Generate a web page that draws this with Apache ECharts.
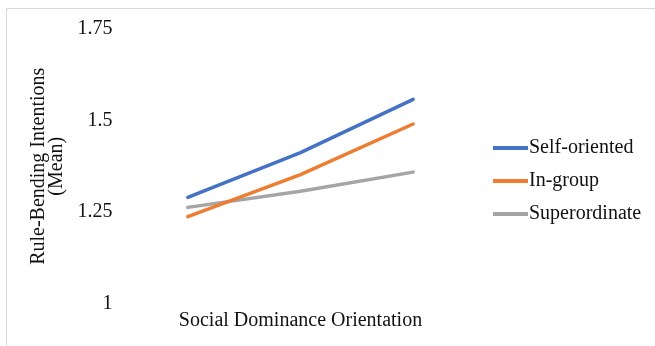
<!DOCTYPE html>
<html>
<head>
<meta charset="utf-8">
<script src="https://cdn.jsdelivr.net/npm/echarts@6/dist/echarts.min.js"></script>
<style>
  html, body { margin: 0; padding: 0; background: #fff; }
  #chart { width: 655px; height: 346px; }
</style>
</head>
<body>
<div id="chart"></div>
<script>
// Simple slopes: rule-bending intentions across levels of social dominance orientation
const sdoLevels = ['Low SDO', 'Mean SDO', 'High SDO'];
const selfOriented = [1.29, 1.412, 1.557];
const inGroup = [1.238, 1.352, 1.49];
const superordinate = [1.263, 1.307, 1.359];
const yTicks = [1, 1.25, 1.5, 1.75];

const seriesNames = ['Self-oriented', 'In-group', 'Superordinate'];
const seriesData = [selfOriented, inGroup, superordinate];
const seriesColors = ['#4472C4', '#ED7D31', '#A5A5A5'];

const serif = '"Liberation Serif", "Times New Roman", serif';
const textColor = '#111111';

const chart = echarts.init(document.getElementById('chart'), null, { renderer: 'canvas' });

chart.setOption({
  animation: false,
  backgroundColor: '#ffffff',
  graphic: [{
    type: 'rect',
    shape: { x: 6.5, y: 8.5, width: 700, height: 400 },
    style: { fill: 'none', stroke: '#d9d9d9', lineWidth: 1 },
    silent: true,
    z: -1
  }],
  grid: { left: 131.5, right: 185.5, top: 28.5, bottom: 42, containLabel: false },
  legend: {
    orient: 'vertical',
    left: 488,
    top: 133,
    itemGap: 13,
    itemWidth: 35,
    itemHeight: 4,
    icon: 'rect',
    textStyle: { fontFamily: serif, fontSize: 20, color: textColor, padding: [0, 0, 0, -4] },
    data: seriesNames
  },
  xAxis: {
    type: 'category',
    data: sdoLevels,
    boundaryGap: true,
    axisLine: { show: false },
    axisTick: { show: false },
    axisLabel: { show: false },
    splitLine: { show: false },
    name: 'Social Dominance Orientation',
    nameLocation: 'middle',
    nameGap: 7,
    nameTextStyle: { fontFamily: serif, fontSize: 20, color: textColor }
  },
  yAxis: {
    type: 'value',
    min: yTicks[0],
    max: yTicks[yTicks.length - 1],
    interval: 0.25,
    axisLine: { show: false },
    axisTick: { show: false },
    splitLine: { show: false },
    axisLabel: {
      margin: 19,
      fontFamily: serif,
      fontSize: 20,
      color: textColor
    },
    name: 'Rule-Bending Intentions\n(Mean)',
    nameLocation: 'middle',
    nameRotate: 90,
    nameGap: 61,
    nameTextStyle: { fontFamily: serif, fontSize: 20, color: textColor, lineHeight: 18 }
  },
  series: seriesNames.map(function (name, i) {
    return {
      name: name,
      type: 'line',
      data: seriesData[i],
      symbol: 'none',
      smooth: false,
      color: seriesColors[i],
      lineStyle: { width: 3.5, color: seriesColors[i], cap: 'round', join: 'round' },
      z: 3 - i
    };
  })
});
</script>
</body>
</html>
